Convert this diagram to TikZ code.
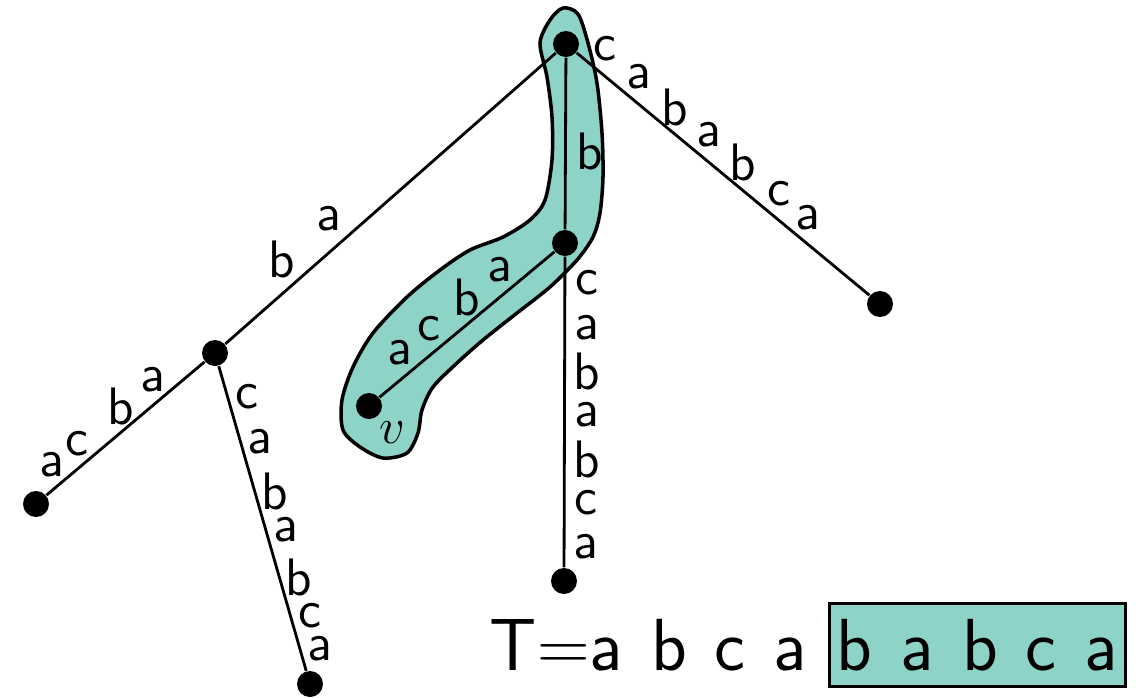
\documentclass[tikz,border=0pt]{standalone}
\usepackage{tikz}
\usetikzlibrary{calc,positioning}
\definecolor{hlfill}{HTML}{8DD3C7}

\begin{document}
\begin{tikzpicture}[
    x=1cm, y=1cm,
    vertex/.style={circle, fill=black, inner sep=0pt, minimum size=0.26cm},
    edge/.style={line width=0.8pt, color=black},
    lab/.style={font=\fontsize{15}{18}\selectfont\sffamily, inner sep=0pt},
    word/.style={font=\fontsize{21}{25}\selectfont\sffamily, inner sep=0pt,
                 execute at begin node=\setlength{\spaceskip}{0.38em}},
    hilite/.style={draw=black, fill=hlfill, line width=1pt}
  ]
\useasboundingbox (0,0) rectangle (11.36,-6.98);

% ---------------- highlighted path (under everything) ----------------
\filldraw[hilite] plot[smooth cycle, tension=0.5] coordinates {
  (5.63,-0.08) (5.78,-0.14) (5.88,-0.43) (5.97,-0.83) (6.02,-1.33)
  (6.03,-1.77) (6.00,-2.13) (5.93,-2.37) (5.77,-2.60) (5.50,-2.87)
  (5.17,-3.13) (4.83,-3.40) (4.57,-3.63) (4.33,-3.87) (4.22,-4.10)
  (4.18,-4.33) (4.07,-4.53) (3.83,-4.58) (3.60,-4.47) (3.43,-4.30)
  (3.42,-4.00) (3.53,-3.67) (3.73,-3.33) (4.07,-2.97) (4.40,-2.70)
  (4.70,-2.50) (5.03,-2.37) (5.30,-2.20) (5.45,-2.00) (5.52,-1.60)
  (5.52,-1.17) (5.47,-0.77) (5.40,-0.43) (5.50,-0.20)};

% ---------------- vertices ----------------
\node[vertex] (root)  at (5.66,-0.44) {};
\node[vertex] (nb)    at (5.65,-2.43) {};
\node[vertex] (split) at (2.15,-3.53) {};
\node[vertex] (v)     at (3.69,-4.06) {};
\node[vertex] (leafa) at (0.36,-5.04) {};
\node[vertex] (leafb) at (3.10,-6.84) {};
\node[vertex] (leafc) at (5.64,-5.81) {};
\node[vertex] (leafd) at (8.80,-3.04) {};

% ---------------- edges ----------------
\foreach \a/\b in {root/nb, root/split, root/leafd, nb/leafc, nb/v, split/leafa, split/leafb}
  \draw[edge] (\a) -- (\b);

% ---------------- edge letters ----------------
\newcommand{\edgelabels}[5]{% from, to, side, offset, letter/pos list
  \foreach \l/\p in {#5}
    \node[lab] at ($(#1)!\p!(#2)!#4!#3:(#2)$) {\l};
}
\edgelabels{root}{leafd}{90}{0.21cm}{c/0.082, a/0.188, b/0.305, a/0.411, b/0.519, c/0.636, a/0.729}
\edgelabels{root}{nb}{90}{0.24cm}{b/0.54}
\edgelabels{nb}{leafc}{90}{0.22cm}{c/0.118, a/0.249, b/0.379, a/0.509, b/0.639, c/0.769, a/0.899}
\edgelabels{root}{split}{-90}{0.26cm}{a/0.628, b/0.760}
\edgelabels{nb}{v}{-90}{0.21cm}{a/0.264, b/0.431, c/0.627, a/0.774}
\edgelabels{split}{leafa}{-90}{0.20cm}{a/0.277, b/0.454, c/0.699, a/0.841}
\edgelabels{split}{leafb}{90}{0.19cm}{c/0.148, a/0.283, b/0.434, a/0.55, b/0.693, c/0.809, a/0.91}

\node[lab] (vname) at ($(v)+(0.23,-0.27)$) {$v$};

% ---------------- text T ----------------
\node[hilite, word, minimum width=2.96cm, minimum height=0.83cm] (suffix) at (9.775,-6.45) {b a b c a};
\node[word, anchor=base east] (prefix) at ([xshift=-0.2cm]suffix.base west) {T$=$a b c a};

\end{tikzpicture}
\end{document}
